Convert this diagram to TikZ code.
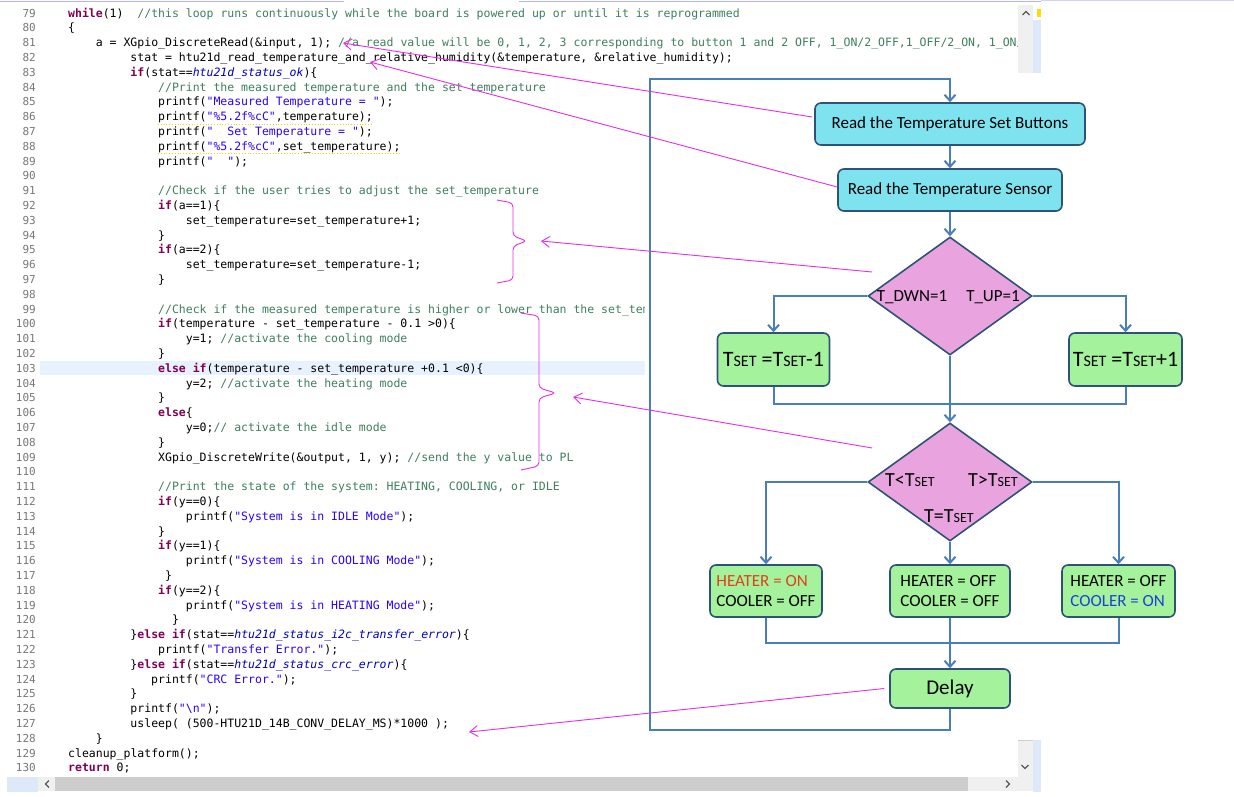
\documentclass[tikz,border=0pt]{standalone}
\usepackage{fontspec}
\setmainfont{Carlito}
\newfontfamily\codefont{DejaVu Sans Mono}
\usetikzlibrary{shapes.geometric, arrows.meta}

\definecolor{kwcol}{HTML}{7F0055}
\definecolor{cmtcol}{HTML}{3F7F5F}
\definecolor{strcol}{HTML}{2A00FF}
\definecolor{fldcol}{HTML}{0000C0}
\definecolor{lnumgray}{HTML}{787878}
\definecolor{hilite}{HTML}{E8F2FE}
\definecolor{flowline}{HTML}{4A7EBB}
\definecolor{boxedge}{HTML}{2F5277}
\definecolor{cyanfill}{HTML}{7FE3EF}
\definecolor{greenfill}{HTML}{A4F39C}
\definecolor{pinkfill}{HTML}{E9A4E0}
\definecolor{notemag}{HTML}{E62EE6}
\definecolor{heatred}{HTML}{E2401B}
\definecolor{coolblue}{HTML}{1E3FD8}
\definecolor{barlight}{HTML}{F0F0F0}
\definecolor{bardark}{HTML}{CDCDCD}
\definecolor{barblue}{HTML}{DDE8F8}

% syntax colouring of the listing
\newcommand{\kw}[1]{\textcolor{kwcol}{\bfseries #1}}
\newcommand{\cmt}[1]{\textcolor{cmtcol}{#1}}
\newcommand{\strg}[1]{\textcolor{strcol}{#1}}
\newcommand{\fld}[1]{\textcolor{fldcol}{\itshape #1}}
% one line of the listing: line number, indent (characters), text
\newcommand{\codeline}[3]{\node[code] (c#1) at ({68+#2*6.92},{17+(#1-79)*14.8}) {#3};}
% small "SET" index
\newcommand{\setsub}[1]{{\fontsize{#1}{#1}\selectfont SET}}

\begin{document}
\begin{tikzpicture}[x=1pt, y=-1pt,
    code/.style={anchor=base west, inner sep=0pt, font=\codefont\fontsize{11.5}{13}\selectfont\frenchspacing},
    lnum/.style={anchor=base east, inner sep=0pt, text=lnumgray, font=\codefont\fontsize{11}{13}\selectfont},
    box/.style={draw=boxedge, line width=1.6pt, rounded corners=6pt, inner sep=0pt, font=\fontsize{17}{20}\selectfont},
    readbox/.style={box, fill=cyanfill},
    actbox/.style={box, fill=greenfill},
    decide/.style={diamond, draw=boxedge, line width=1.6pt, fill=pinkfill, inner sep=0pt,
      minimum width=164pt, minimum height=118pt},
    lbl/.style={inner sep=0pt, font=\fontsize{17}{20}\selectfont},
    flow/.style={draw=flowline, line width=2pt},
    note/.style={draw=notemag, line width=0.9pt},
    chev/.style={draw=black!65, line width=1.1pt}]

    \useasboundingbox (0,0) rectangle (1234,796);
    \fill[white] (0,0) rectangle (1234,796);

    % --- 1. listing ---
    \fill[hilite] (40,{368-7.4}) rectangle (645,{368+7.4});
    \begin{scope}
    \clip (0,0) rectangle (1018,796);
    \codeline{79}{0}{\kw{while}(1)\ \ \cmt{//this loop runs continuously while the board is powered up or until it is reprogrammed}}
    \codeline{80}{0}{\{}
    \codeline{81}{4}{a = XGpio\_DiscreteRead(\&input, 1); \cmt{//a read value will be 0, 1, 2, 3 corresponding to button 1 and 2 OFF, 1\_ON/2\_OFF,1\_OFF/2\_ON, 1\_ON/2\_ON}}
    \codeline{82}{9}{stat = htu21d\_read\_temperature\_and\_relative\_humidity(\&temperature, \&relative\_humidity);}
    \codeline{83}{9}{\kw{if}(stat==\fld{htu21d\_status\_ok})\{}
    \codeline{84}{13}{\cmt{//Print the measured temperature and the set temperature}}
    \codeline{85}{13}{printf(\strg{"Measured Temperature = "});}
    \codeline{86}{13}{printf(\strg{"\%5.2f\%cC"},temperature);}
    \codeline{87}{13}{printf(\strg{"\ \ Set Temperature = "});}
    \codeline{88}{13}{printf(\strg{"\%5.2f\%cC"},set\_temperature);}
    \codeline{89}{13}{printf(\strg{"\ \ "});}
    \codeline{91}{13}{\cmt{//Check if the user tries to adjust the set\_temperature}}
    \codeline{92}{13}{\kw{if}(a==1)\{}
    \codeline{93}{17}{set\_temperature=set\_temperature+1;}
    \codeline{94}{13}{\}}
    \codeline{95}{13}{\kw{if}(a==2)\{}
    \codeline{96}{17}{set\_temperature=set\_temperature-1;}
    \codeline{97}{13}{\}}
    \codeline{99}{13}{\cmt{//Check if the measured temperature is higher or lower than the set\_temperature}}
    \codeline{100}{13}{\kw{if}(temperature - set\_temperature - 0.1 >0)\{}
    \codeline{101}{17}{y=1; \cmt{//activate the cooling mode}}
    \codeline{102}{13}{\}}
    \codeline{103}{13}{\kw{else} \kw{if}(temperature - set\_temperature +0.1 <0)\{}
    \codeline{104}{17}{y=2; \cmt{//activate the heating mode}}
    \codeline{105}{13}{\}}
    \codeline{106}{13}{\kw{else}\{}
    \codeline{107}{17}{y=0;\cmt{// activate the idle mode}}
    \codeline{108}{13}{\}}
    \codeline{109}{13}{XGpio\_DiscreteWrite(\&output, 1, y); \cmt{//send the y value to PL}}
    \codeline{111}{13}{\cmt{//Print the state of the system: HEATING, COOLING, or IDLE}}
    \codeline{112}{13}{\kw{if}(y==0)\{}
    \codeline{113}{17}{printf(\strg{"System is in IDLE Mode"});}
    \codeline{114}{13}{\}}
    \codeline{115}{13}{\kw{if}(y==1)\{}
    \codeline{116}{17}{printf(\strg{"System is in COOLING Mode"});}
    \codeline{117}{14}{\}}
    \codeline{118}{13}{\kw{if}(y==2)\{}
    \codeline{119}{17}{printf(\strg{"System is in HEATING Mode"});}
    \codeline{120}{15}{\}}
    \codeline{121}{9}{\}\kw{else} \kw{if}(stat==\fld{htu21d\_status\_i2c\_transfer\_error})\{}
    \codeline{122}{13}{printf(\strg{"Transfer Error."});}
    \codeline{123}{9}{\}\kw{else} \kw{if}(stat==\fld{htu21d\_status\_crc\_error})\{}
    \codeline{124}{12}{printf(\strg{"CRC Error."});}
    \codeline{125}{9}{\}}
    \codeline{126}{9}{printf(\strg{"\textbackslash n"});}
    \codeline{127}{9}{usleep( (500-HTU21D\_14B\_CONV\_DELAY\_MS)*1000 );}
    \codeline{128}{4}{\}}
    \codeline{129}{0}{cleanup\_platform();}
    \codeline{130}{0}{\kw{return} 0;}
    % warning underlines
    \draw[yellow!70!orange, line width=0.8pt, dotted] (158,124) -- (372,124);
    \draw[yellow!70!orange, line width=0.8pt, dotted] (158,153.5) -- (400,153.5);
    \end{scope}
    \foreach \n in {79,...,130}
      \node[lnum] (n\n) at (36,{17+(\n-79)*14.8}) {\n};

    % --- 2. editor frame ---
    \fill[white] (645,74) rectangle (1018,741);
    \draw[blue!30, line width=1.5pt] (0,1.5) -- (344,1.5) (519,1.5) -- (1041,1.5);
    \draw[blue!18, line width=1pt] (1041,0.6) -- (1234,0.6);
    \fill[barlight] (1018,5) rectangle (1033,73);
    \fill[barblue] (1033,20) rectangle (1041,73);
    \fill[yellow!80!orange] (1036.5,9) rectangle (1041,17);
    \fill[barlight] (1018,740) rectangle (1033,791);
    \draw[bardark, line width=1pt] (1018,740.5) -- (1033,740.5);
    \fill[barblue] (1033,740) rectangle (1041,792);
    \fill[barblue] (7,777) rectangle (38,792);
    \fill[barlight] (38,777) rectangle (1018,791);
    \fill[bardark] (55,777) rectangle (968,791);
    \draw[chev] (1022.5,15) -- (1026,11.5) -- (1029.5,15);
    \draw[chev] (1021.5,765) -- (1025,768.5) -- (1028.5,765);
    \draw[chev] (49,780.5) -- (45.5,784) -- (49,787.5);
    \draw[chev] (1006,780.5) -- (1009.5,784) -- (1006,787.5);

    % --- 3. flowchart ---
    \node[readbox, minimum width=270pt, minimum height=42pt] (rd_btn) at (950,124) {Read the Temperature Set Buttons};
    \node[readbox, minimum width=224pt, minimum height=42pt] (rd_sns) at (950,190) {Read the Temperature Sensor};
    \node[decide] (chk_btn) at (950,296) {};
    \node[lbl] (t_dwn) at (912,297) {T\_DWN=1};
    \node[lbl] (t_up) at (993,297) {T\_UP=1};
    \node[actbox, minimum width=112pt, minimum height=53pt, font=\fontsize{22}{24}\selectfont] (dec) at (773.5,359.5)
      {T\setsub{16} =T\setsub{16}-1};
    \node[actbox, minimum width=113pt, minimum height=53pt, font=\fontsize{22}{24}\selectfont] (inc) at (1125.5,359.5)
      {T\setsub{16} =T\setsub{16}+1};
    \node[decide] (chk_tmp) at (950,482) {};
    \node[lbl, font=\fontsize{20}{22}\selectfont] (t_lt) at (910,480) {T<T\setsub{14}};
    \node[lbl, font=\fontsize{20}{22}\selectfont] (t_gt) at (993,480) {T>T\setsub{14}};
    \node[lbl, font=\fontsize{20}{22}\selectfont] (t_eq) at (949,516) {T=T\setsub{14}};
    \node[actbox, minimum width=112pt, minimum height=52pt, align=left] (heat) at (766,591)
      {\textcolor{heatred}{HEATER = ON}\\COOLER = OFF};
    \node[actbox, minimum width=120pt, minimum height=52pt, align=left] (idle) at (950,591)
      {HEATER = OFF\\COOLER = OFF};
    \node[actbox, minimum width=113pt, minimum height=52pt, align=left] (cool) at (1118.5,591)
      {HEATER = OFF\\\textcolor{coolblue}{COOLER = ON}};
    \node[actbox, minimum width=120pt, minimum height=39pt, font=\fontsize{21}{24}\selectfont] (delay) at (950,688.5) {Delay};

    \coordinate (join1) at (950,404);
    \coordinate (join2) at (950,643);
    \coordinate (loopbl) at (650,730);
    \coordinate (looptl) at (650,79);

    \draw[flow, -{Straight Barb[length=6pt,width=11pt]}] (rd_btn.south) -- (rd_sns.north);
    \draw[flow, -{Straight Barb[length=6pt,width=11pt]}] (rd_sns.south) -- (chk_btn.north);
    \draw[flow, -{Straight Barb[length=6pt,width=11pt]}] (chk_btn.west) -| (dec.north);
    \draw[flow, -{Straight Barb[length=6pt,width=11pt]}] (chk_btn.east) -| (inc.north);
    \draw[flow] (dec.south) |- (join1) -| (inc.south);
    \draw[flow, -{Straight Barb[length=6pt,width=11pt]}] (chk_btn.south) -- (chk_tmp.north);
    \draw[flow, -{Straight Barb[length=6pt,width=11pt]}] (chk_tmp.west) -| (heat.north);
    \draw[flow, -{Straight Barb[length=6pt,width=11pt]}] (chk_tmp.east) -| (cool.north);
    \draw[flow, -{Straight Barb[length=6pt,width=11pt]}] (chk_tmp.south) -- (idle.north);
    \draw[flow] (heat.south) |- (join2) -| (cool.south);
    \draw[flow, -{Straight Barb[length=6pt,width=11pt]}] (idle.south) -- (delay.north);
    \draw[flow, -{Straight Barb[length=6pt,width=11pt]}] (delay.south) |- (loopbl) -- (looptl) -| (rd_btn.north);

    % --- 4. annotations ---
    \coordinate (tip_btn) at (343,43);
    \coordinate (tip_sns) at (370,62);
    \coordinate (tip_adj) at (541,241);
    \coordinate (tip_cmp) at (573,397);
    \coordinate (tip_dly) at (469,732);
    \draw[note, rounded corners=4pt] (497,200) -- (513,203) -- (513,236) -- (527,241) -- (513,246) -- (513,280) -- (497,283);
    \draw[note, rounded corners=4pt] (521,313) -- (539,316) -- (539,388) -- (556,393) -- (539,398) -- (539,466) -- (521,470);
    \draw[note, -{Straight Barb[length=8pt,width=11pt]}] ([shift={(-2pt,7pt)}]rd_btn.west) -- (tip_btn);
    \draw[note, -{Straight Barb[length=8pt,width=11pt]}] ([yshift=3pt]rd_sns.west) -- (tip_sns);
    \draw[note, -{Straight Barb[length=8pt,width=11pt]}] ([shift={(5pt,24pt)}]chk_btn.west) -- (tip_adj);
    \draw[note, -{Straight Barb[length=8pt,width=11pt]}] ([shift={(5pt,34pt)}]chk_tmp.west) -- (tip_cmp);
    \draw[note, -{Straight Barb[length=8pt,width=11pt]}] ([xshift=-5pt]delay.west) -- (tip_dly);

\end{tikzpicture}
\end{document}
